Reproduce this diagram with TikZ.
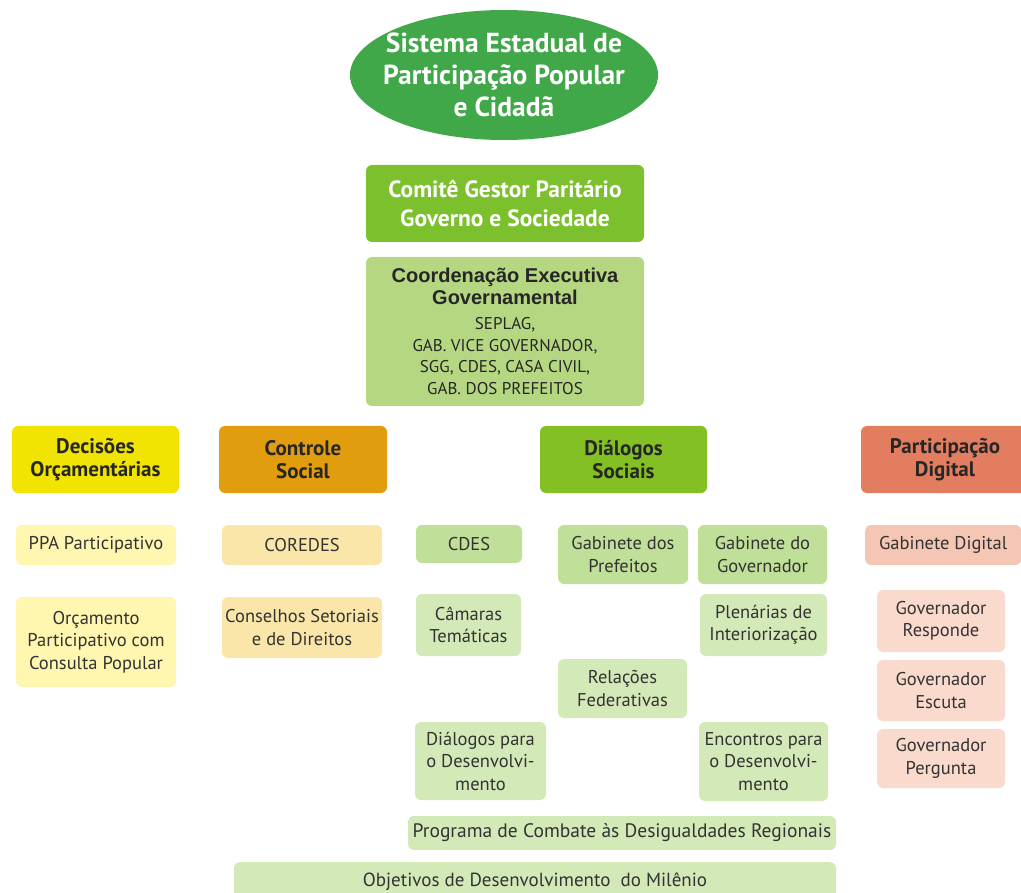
\documentclass[tikz,border=0pt]{standalone}
\usepackage{fontspec}
\setmainfont{PT Sans}
\newfontfamily\arialfont{Liberation Sans}
\usetikzlibrary{shapes.geometric}

\definecolor{topgreen}{RGB}{64,168,72}
\definecolor{limegreen}{RGB}{124,192,46}
\definecolor{coordgreen}{RGB}{181,215,130}
\definecolor{decyellow}{RGB}{240,228,0}
\definecolor{ctlorange}{RGB}{226,157,14}
\definecolor{dialgreen}{RGB}{130,192,35}
\definecolor{digred}{RGB}{226,125,95}
\definecolor{paleyellow}{RGB}{255,246,176}
\definecolor{paleorange}{RGB}{250,230,168}
\definecolor{midgreen}{RGB}{192,223,152}
\definecolor{palegreen}{RGB}{212,233,184}
\definecolor{midred}{RGB}{245,198,180}
\definecolor{palered}{RGB}{250,218,204}
\definecolor{inkgray}{RGB}{51,51,51}

\newcommand{\coordtitle}{\arialfont\bfseries\fontsize{20}{24}\selectfont}

\tikzset{
  box/.style={rounded corners=6pt, inner sep=0pt, align=center, text=inkgray,
    font=\fontsize{18.5}{22.5}\selectfont},
  headbox/.style={box, text=black!85, font=\bfseries\fontsize{21}{23.5}\selectfont},
}

\begin{document}
\begin{tikzpicture}[x=1pt,y=-1pt]
  \useasboundingbox (0,0) rectangle (1021,893);

  % top of the structure
  \node[ellipse, fill=topgreen, text=white, inner xsep=-30pt, inner ysep=0pt,
        minimum width=308pt, minimum height=130pt,
        align=center, font=\bfseries\fontsize{27.5}{32}\selectfont] (sistema) at (504,75)
        {Sistema Estadual de\\Participação Popular\\e Cidadã};
  \node[box, fill=limegreen, text=white, minimum width=278pt, minimum height=77pt,
        font=\bfseries\fontsize{23.5}{29}\selectfont] (comite) at (505,203.5)
        {Comitê Gestor Paritário\\Governo e Sociedade};
  \node[box, fill=coordgreen, minimum width=278pt, minimum height=149pt, text=black!85,
        font=\fontsize{17}{21.8}\selectfont] (coord) at (505,331.5)
        {{\coordtitle Coordenação Executiva}\\{\coordtitle Governamental}\\[3pt]
         SEPLAG,\\GAB. VICE GOVERNADOR,\\SGG, CDES, CASA CIVIL,\\GAB. DOS PREFEITOS};

  % the four axes
  \node[headbox, fill=decyellow, minimum width=167pt, minimum height=67pt] (decisoes) at (95.5,459.5)
        {Decisões\\Orçamentárias};
  \node[headbox, fill=ctlorange, minimum width=168pt, minimum height=67pt] (controle) at (303,459.5)
        {Controle\\Social};
  \node[headbox, fill=dialgreen, minimum width=167pt, minimum height=67pt] (dialogos) at (623.5,459.5)
        {Diálogos\\Sociais};
  \node[headbox, fill=digred, minimum width=168pt, minimum height=67pt] (digital) at (945,459.5)
        {Participação\\Digital};

  % Decisões Orçamentárias
  \node[box, fill=paleyellow, minimum width=160pt, minimum height=40pt] (ppa) at (96,545)
        {PPA Participativo};
  \node[box, fill=paleyellow, minimum width=160pt, minimum height=90pt] (orcamento) at (96,642)
        {Orçamento\\Participativo com\\Consulta Popular};

  % Controle Social
  \node[box, fill=paleorange, minimum width=160pt, minimum height=40pt] (coredes) at (302,545)
        {COREDES};
  \node[box, fill=paleorange, minimum width=160pt, minimum height=61pt] (conselhos) at (302,627.5)
        {Conselhos Setoriais\\e de Direitos};

  % Diálogos Sociais
  \node[box, fill=midgreen, minimum width=106pt, minimum height=38pt] (cdes) at (469,544)
        {CDES};
  \node[box, fill=midgreen, minimum width=130pt, minimum height=59pt] (prefeitos) at (623,554.5)
        {Gabinete dos\\Prefeitos};
  \node[box, fill=midgreen, minimum width=129pt, minimum height=59pt] (governador) at (762.5,554.5)
        {Gabinete do\\Governador};
  \node[box, fill=palegreen, minimum width=105pt, minimum height=62pt] (camaras) at (468.5,625)
        {Câmaras\\Temáticas};
  \node[box, fill=palegreen, minimum width=127pt, minimum height=62pt] (plenarias) at (763.5,625)
        {Plenárias de\\Interiorização};
  \node[box, fill=palegreen, minimum width=129pt, minimum height=59pt] (relacoes) at (622.5,688.5)
        {Relações\\Federativas};
  \node[box, fill=palegreen, minimum width=131pt, minimum height=78pt] (dialdesenv) at (480.5,761)
        {Diálogos para\\o Desenvolvi-\\mento};
  \node[box, fill=palegreen, minimum width=129pt, minimum height=79pt] (encontros) at (763.5,761.5)
        {Encontros para\\o Desenvolvi-\\mento};
  \node[box, fill=palegreen, minimum width=428pt, minimum height=34pt,
        font=\fontsize{19.5}{23}\selectfont] (programa) at (622,833)
        {Programa de Combate às Desigualdades Regionais};
  \node[box, fill=palegreen, minimum width=602pt, minimum height=38pt, anchor=north,
        font=\fontsize{19}{23}\selectfont] (objetivos) at (535,862)
        {Objetivos de Desenvolvimento\ \ do Milênio};

  % Participação Digital
  \node[box, fill=midred, minimum width=156pt, minimum height=40pt, anchor=west] (gabdigital) at (865,545)
        {Gabinete Digital};
  \node[box, fill=palered, minimum width=128pt, minimum height=62pt] (responde) at (941,621)
        {Governador\\Responde};
  \node[box, fill=palered, minimum width=128pt, minimum height=61pt] (escuta) at (941,690.5)
        {Governador\\Escuta};
  \node[box, fill=palered, minimum width=128pt, minimum height=59pt] (pergunta) at (941,758.5)
        {Governador\\Pergunta};
\end{tikzpicture}
\end{document}
